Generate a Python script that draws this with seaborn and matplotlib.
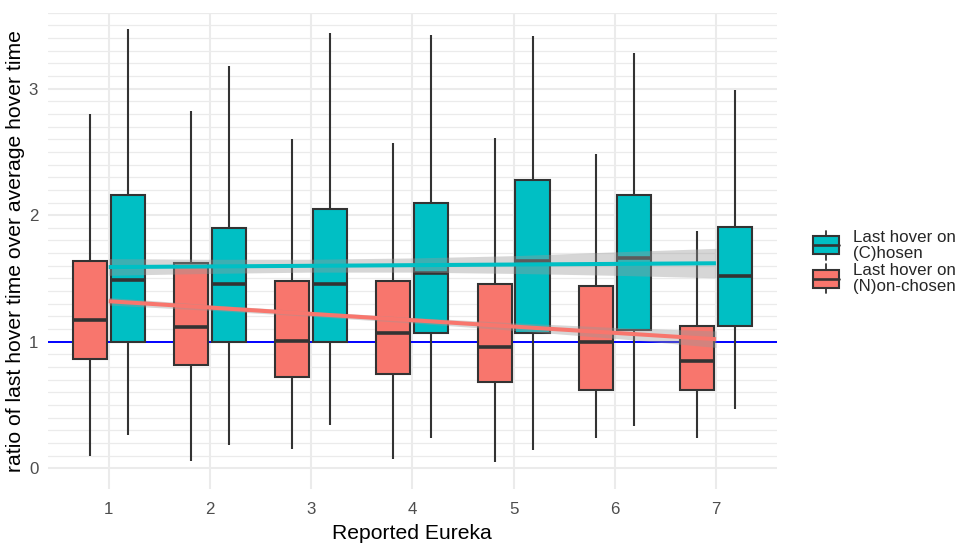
import numpy as np
import pandas as pd
import matplotlib
matplotlib.use("Agg")
import matplotlib.pyplot as plt
import seaborn as sns
from matplotlib.legend_handler import HandlerBase
from matplotlib.patches import Rectangle
from matplotlib.lines import Line2D
from matplotlib.ticker import FixedLocator

# ---------------- data ----------------
eureka = [1, 2, 3, 4, 5, 6, 7]
label_chosen = "Last hover on\n(C)hosen"
label_nonchosen = "Last hover on\n(N)on-chosen"

# five-number summaries: lower whisker, Q1, median, Q3, upper whisker
non_low = [0.10, 0.055, 0.15, 0.074, 0.046, 0.242, 0.239]
non_q1 = [0.86, 0.818, 0.72, 0.742, 0.681, 0.618, 0.618]
non_med = [1.175, 1.118, 1.008, 1.071, 0.961, 0.994, 0.851]
non_q3 = [1.64, 1.626, 1.478, 1.483, 1.456, 1.442, 1.126]
non_high = [2.797, 2.82, 2.60, 2.574, 2.61, 2.486, 1.873]

cho_low = [0.26, 0.184, 0.343, 0.239, 0.145, 0.338, 0.472]
cho_q1 = [1.00, 1.00, 1.00, 1.066, 1.066, 1.09, 1.126]
cho_med = [1.49, 1.455, 1.455, 1.544, 1.64, 1.662, 1.516]
cho_q3 = [2.16, 1.90, 2.046, 2.10, 2.275, 2.162, 1.904]
cho_high = [3.475, 3.18, 3.44, 3.42, 3.415, 3.283, 2.986]

# linear smooth lines with confidence bands
cho_fit = [1.59, 1.595, 1.60, 1.605, 1.61, 1.615, 1.62]
cho_fit_lo = [1.525, 1.54, 1.55, 1.55, 1.54, 1.525, 1.505]
cho_fit_hi = [1.657, 1.652, 1.652, 1.662, 1.68, 1.71, 1.738]
non_fit = [1.32, 1.27, 1.22, 1.17, 1.12, 1.07, 1.02]
non_fit_lo = [1.29, 1.248, 1.20, 1.148, 1.09, 1.027, 0.955]
non_fit_hi = [1.35, 1.292, 1.24, 1.192, 1.15, 1.113, 1.085]

reference_y = 1.0

# ---------------- table ----------------
rows = []
for i, e in enumerate(eureka):
    for v in (non_low[i], non_q1[i], non_med[i], non_q3[i], non_high[i]):
        rows.append((e, label_nonchosen, v))
    for v in (cho_low[i], cho_q1[i], cho_med[i], cho_q3[i], cho_high[i]):
        rows.append((e, label_chosen, v))
df = pd.DataFrame(rows, columns=["eureka", "hover", "ratio"])

RED = "#F8766D"
CYAN = "#00BFC4"
EDGE = "#333333"
GRID = "#EBEBEB"

sns.set_theme(style="white")
plt.rcParams["font.family"] = ["Liberation Sans", "DejaVu Sans"]

fig = plt.figure(figsize=(9.57, 5.46), dpi=100)
ax = fig.add_axes([48 / 957, 1 - 489.3 / 546, (776.7 - 48) / 957, (489.3 - 12.7) / 546])

ax.set_axisbelow(True)
ax.axhline(reference_y, color="#0000FF", lw=1.4, zorder=0.9)

sns.boxplot(
    data=df, x="eureka", y="ratio", hue="hover",
    hue_order=[label_nonchosen, label_chosen],
    palette=[RED, CYAN], saturation=1, native_scale=True,
    width=0.75, gap=0.1, whis=(0, 100),
    linecolor=EDGE, linewidth=1.5, showcaps=False, showfliers=False,
    medianprops=dict(linewidth=2.6, color=EDGE),
    legend=False, ax=ax,
)

ax.fill_between(eureka, cho_fit_lo, cho_fit_hi, color="#999999", alpha=0.4, lw=0, zorder=3)
ax.plot(eureka, cho_fit, color=CYAN, lw=2.9, zorder=3.1, solid_capstyle="butt")
ax.fill_between(eureka, non_fit_lo, non_fit_hi, color="#999999", alpha=0.4, lw=0, zorder=3)
ax.plot(eureka, non_fit, color=RED, lw=2.9, zorder=3.1, solid_capstyle="butt")

ax.set_xlim(0.4, 7.6)
ax.set_ylim(-0.166, 3.6)
ax.xaxis.set_major_locator(FixedLocator(eureka))
ax.set_xticklabels([str(e) for e in eureka])
ax.yaxis.set_major_locator(FixedLocator([0, 1, 2, 3]))
ax.yaxis.set_minor_locator(FixedLocator(np.round(np.arange(0, 3.61, 0.1), 2)))
ax.grid(which="major", axis="both", color=GRID, lw=1.5)
ax.grid(which="minor", axis="y", color=GRID, lw=0.9)
for s in ax.spines.values():
    s.set_visible(False)
ax.tick_params(which="both", length=0)
ax.tick_params(axis="both", labelsize=12.2, labelcolor="#4D4D4D")
ax.tick_params(axis="x", pad=9)
ax.tick_params(axis="y", pad=7)

ax.set_xlabel("Reported Eureka", fontsize=15.2, color="black", labelpad=5)
ax.set_ylabel("ratio of last hover time over average hover time", fontsize=15.2,
              color="black", labelpad=3)


class BoxHandler(HandlerBase):
    def create_artists(self, legend, orig_handle, xdescent, ydescent,
                       width, height, fontsize, trans):
        fc = orig_handle.get_facecolor()
        cx = -xdescent + width / 2
        cy = -ydescent + height / 2
        bh = 13.0
        wh = 10.5
        rect = Rectangle((-xdescent, cy - bh / 2), width, bh, facecolor=fc,
                         edgecolor=EDGE, lw=1.5, transform=trans)
        w1 = Line2D([cx, cx], [cy + bh / 2, cy + wh], color=EDGE, lw=1.3, transform=trans)
        w2 = Line2D([cx, cx], [cy - bh / 2, cy - wh], color=EDGE, lw=1.3, transform=trans)
        med = Line2D([-xdescent, -xdescent + width], [cy, cy], color=EDGE, lw=1.9,
                     transform=trans)
        return [w1, w2, rect, med]


handles = [Rectangle((0, 0), 1, 1, facecolor=CYAN), Rectangle((0, 0), 1, 1, facecolor=RED)]
labels = [label_chosen, label_nonchosen]
leg = fig.legend(handles, labels, handler_map={Rectangle: BoxHandler()},
                 loc="center left", bbox_to_anchor=(812.7 / 957, 1 - 262 / 546),
                 frameon=False, fontsize=12.2, handlelength=1.53, handletextpad=0.84,
                 labelspacing=0.12, borderpad=0, borderaxespad=0)
for t in leg.get_texts():
    t.set_linespacing(1.12)

fig.savefig("out.png", dpi=100)
